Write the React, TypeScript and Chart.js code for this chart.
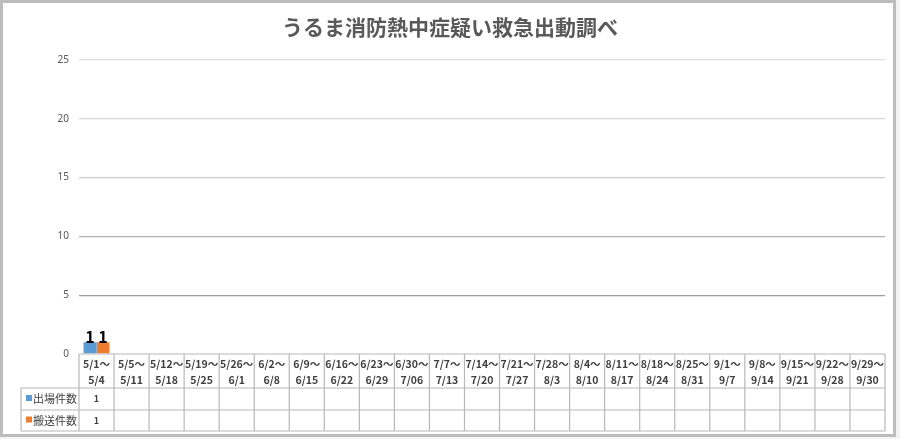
import React, { useEffect, useRef } from "react";
import { Chart, registerables } from "chart.js";

Chart.register(...registerables);

const TITLE = "うるま消防熱中症疑い救急出動調べ";
const categories = [
  "5/1～5/4", "5/5～5/11", "5/12～5/18", "5/19～5/25", "5/26～6/1",
  "6/2～6/8", "6/9～6/15", "6/16～6/22", "6/23～6/29", "6/30～7/06",
  "7/7～7/13", "7/14～7/20", "7/21～7/27", "7/28～8/3", "8/4～8/10",
  "8/11～8/17", "8/18～8/24", "8/25～8/31", "9/1～9/7", "9/8～9/14",
  "9/15～9/21", "9/22～9/28", "9/29～9/30",
];
const seriesNames = ["出場件数", "搬送件数"];
const dispatches: (number | null)[] = [1, null, null, null, null, null, null, null, null, null, null, null, null, null, null, null, null, null, null, null, null, null, null];
const transports: (number | null)[] = [1, null, null, null, null, null, null, null, null, null, null, null, null, null, null, null, null, null, null, null, null, null, null];
const yMax = 25;
const yStep = 5;

const COLORS = ["#5B9BD5", "#ED7D31"];
const JP = '"Noto Sans CJK JP", "Noto Sans", sans-serif';
const gridColors: Record<number, string> = { 0: "rgba(0,0,0,0)", 5: "#9c9c9c", 10: "#b2b2b2", 15: "#cccccc", 20: "#d8d8d8", 25: "#e0e0e0" };

const decorPlugin = {
  id: "decor",
  beforeDraw(chart: any) {
    const { ctx, width, height } = chart;
    ctx.save();
    ctx.fillStyle = "#f3f3f3";
    ctx.fillRect(0, 0, width, height);
    ctx.fillStyle = "#ffffff";
    ctx.fillRect(0, 0, 896, 437);
    ctx.strokeStyle = "#bcbcbc";
    ctx.lineWidth = 3;
    ctx.strokeRect(1.5, 1.5, 893, 434);
    // title
    ctx.fillStyle = "#595959";
    ctx.font = `bold 21px ${JP}`;
    ctx.textAlign = "center";
    ctx.textBaseline = "middle";
    ctx.fillText(TITLE, 450, 27);
    ctx.restore();
  },
  afterDatasetsDraw(chart: any) {
    const { ctx, chartArea } = chart;
    const x = chart.scales.x;
    const y = chart.scales.y;
    ctx.save();
    // value labels
    ctx.font = `bold 16px ${JP}`;
    ctx.fillStyle = "#000000";
    ctx.textAlign = "center";
    ctx.textBaseline = "bottom";
    chart.data.datasets.forEach((ds: any, di: number) => {
      const meta = chart.getDatasetMeta(di);
      meta.data.forEach((bar: any, i: number) => {
        const v = ds.data[i];
        if (v === null || v === undefined) return;
        ctx.fillText(String(v), bar.x, bar.y + 3);
      });
    });

    // data table
    const n = categories.length;
    const left = chartArea.left;
    const right = chartArea.right;
    const top = y.getPixelForValue(0);
    const headerBottom = top + 34;
    const row1Bottom = headerBottom + 22;
    const row2Bottom = row1Bottom + 21;
    const legendLeft = 21;
    const colW = (right - left) / n;

    ctx.strokeStyle = "#b8b8b8";
    ctx.lineWidth = 1.2;
    ctx.beginPath();
    ctx.moveTo(left, top); ctx.lineTo(right, top);
    ctx.moveTo(legendLeft, headerBottom); ctx.lineTo(right, headerBottom);
    ctx.moveTo(legendLeft, row1Bottom); ctx.lineTo(right, row1Bottom);
    ctx.moveTo(legendLeft, row2Bottom); ctx.lineTo(right, row2Bottom);
    ctx.moveTo(legendLeft, headerBottom); ctx.lineTo(legendLeft, row2Bottom);
    for (let i = 0; i <= n; i++) {
      const px = left + i * colW;
      ctx.moveTo(px, top); ctx.lineTo(px, row2Bottom);
    }
    ctx.stroke();

    // header labels
    ctx.fillStyle = "#404040";
    ctx.font = `bold 10.5px ${JP}`;
    ctx.textAlign = "center";
    ctx.textBaseline = "middle";
    categories.forEach((c, i) => {
      const cx = x.getPixelForValue(i);
      const parts = c.split("～");
      ctx.fillText(parts[0] + "～", cx, top + 10);
      ctx.fillText(parts[1], cx, top + 26);
    });

    // rows
    const rowCenters = [(headerBottom + row1Bottom) / 2, (row1Bottom + row2Bottom) / 2];
    chart.data.datasets.forEach((ds: any, di: number) => {
      const cy = rowCenters[di];
      ctx.fillStyle = COLORS[di];
      ctx.fillRect(legendLeft + 5, cy - 4, 6, 6);
      ctx.fillStyle = "#404040";
      ctx.font = `11px ${JP}`;
      ctx.textAlign = "left";
      ctx.fillText(ds.label, legendLeft + 12, cy);
      ctx.font = `bold 9px ${JP}`;
      ctx.textAlign = "center";
      ds.data.forEach((v: any, i: number) => {
        if (v === null || v === undefined) return;
        ctx.fillText(String(v), x.getPixelForValue(i), cy);
      });
    });
    ctx.restore();
  },
};

export default function App() {
  const ref = useRef<HTMLCanvasElement | null>(null);
  useEffect(() => {
    document.body.style.margin = "0";
    if (!ref.current) return;
    const chart = new Chart(ref.current, {
      type: "bar",
      data: {
        labels: categories,
        datasets: [
          { label: seriesNames[0], data: dispatches, backgroundColor: COLORS[0] },
          { label: seriesNames[1], data: transports, backgroundColor: COLORS[1] },
        ],
      },
      options: {
        animation: false,
        responsive: false,
        devicePixelRatio: 1,
        layout: { padding: { left: 0, right: 15, top: 60, bottom: 85 } },
        plugins: { legend: { display: false }, title: { display: false }, tooltip: { enabled: false } },
        scales: {
          x: {
            display: false,
            offset: true,
            grid: { display: false },
          },
          y: {
            min: 0,
            max: yMax,
            afterFit: (s: any) => { s.width = 79; },
            ticks: {
              stepSize: yStep,
              padding: 10,
              color: "#595959",
              font: { size: 10, family: '"Noto Sans", sans-serif' },
            },
            border: { display: false },
            grid: {
              drawTicks: false,
              lineWidth: 1.3,
              color: (c: any) => gridColors[c.tick?.value] ?? "#d9d9d9",
            },
          },
        },
        datasets: { bar: { categoryPercentage: 0.74, barPercentage: 1.0 } },
      } as any,
      plugins: [decorPlugin],
    });
    return () => chart.destroy();
  }, []);
  return (
    <div style={{ position: "absolute", left: 0, top: 0, width: 900, height: 439 }}>
      <canvas ref={ref} width={900} height={439} style={{ width: 900, height: 439 }} />
    </div>
  );
}
